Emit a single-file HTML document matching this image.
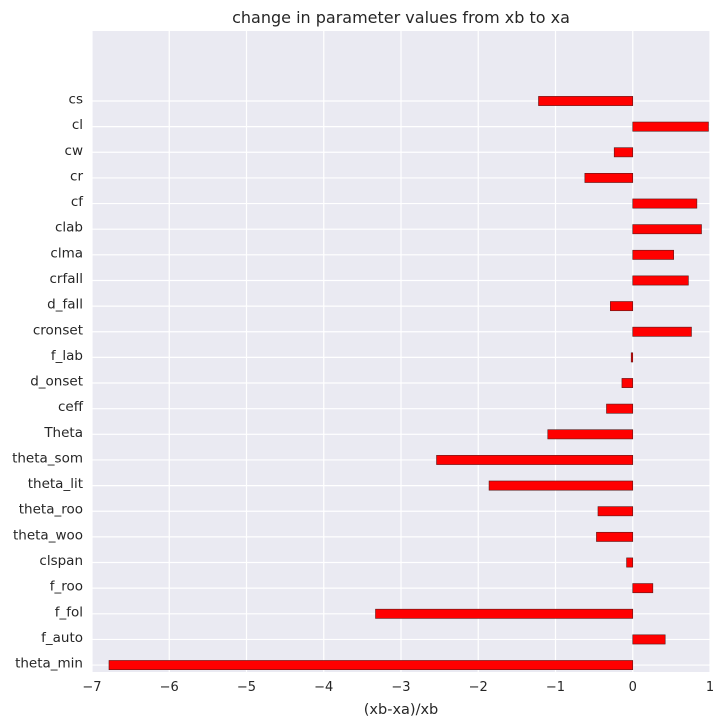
<!DOCTYPE html>
<html><head><meta charset="utf-8"><style>
body{margin:0;background:#fff;}
svg{display:block;font-family:"DejaVu Sans","Liberation Sans",sans-serif;}
</style></head><body>
<svg id="chart" width="724" height="726">
<rect x="92" y="31" width="618" height="641" fill="#EAEAF2"/>
<g id="grid"></g><g id="bars"></g><g id="labels"></g>
<text x="401" y="23" text-anchor="middle" font-size="16" fill="#262626">change in parameter values from xb to xa</text>
<text x="401" y="714" text-anchor="middle" font-size="14.5" fill="#262626">(xb-xa)/xb</text>
</svg>
<script>
const categories=["theta_min","f_auto","f_fol","f_roo","clspan","theta_woo","theta_roo","theta_lit","theta_som","Theta","ceff","d_onset","f_lab","cronset","d_fall","crfall","clma","clab","cf","cr","cw","cl","cs"];
const values=[-6.78,0.42,-3.33,0.26,-0.08,-0.47,-0.45,-1.86,-2.54,-1.10,-0.34,-0.14,-0.02,0.76,-0.29,0.72,0.53,0.89,0.83,-0.62,-0.24,0.98,-1.22];
const xTicks=[-7,-6,-5,-4,-3,-2,-1,0,1];
const NS="http://www.w3.org/2000/svg";
const L=92,R=710,T=31,B=672,xmin=-7,xmax=1,ymin=-0.27,ymax=24.73;
const sx=v=>L+(v-xmin)/(xmax-xmin)*(R-L);
const sy=i=>B-(i-ymin)/(ymax-ymin)*(B-T);
const bw=(B-T)/(ymax-ymin)*0.36;
const grid=document.getElementById('grid'),bars=document.getElementById('bars'),labels=document.getElementById('labels');
function mk(t,a){const e=document.createElementNS(NS,t);for(const k in a)e.setAttribute(k,a[k]);return e;}
xTicks.forEach(v=>{
 const l=mk('line',{x1:sx(v),x2:sx(v),y1:T,y2:B,stroke:'#fff','stroke-width':1.2});
 
 
 grid.appendChild(l);
 const t=mk('text',{x:sx(v),y:B+19,'text-anchor':'middle','font-size':13,fill:'#262626'});
 t.textContent=v<0?'\u2212'+(-v):String(v);
 
 
 labels.appendChild(t);
});
categories.forEach((c,i)=>{
 const y=sy(i);
 const l=mk('line',{x1:L,x2:R,y1:y,y2:y,stroke:'#fff','stroke-width':1.2});
 
 
 grid.appendChild(l);
 const v=values[i];
 const x0=Math.min(sx(0),sx(v)),w=Math.abs(sx(v)-sx(0));
 const r=mk('rect',{x:x0,y:y-bw/2,width:Math.max(w,1),height:bw,fill:'#ff0000',stroke:'#5a1a1a','stroke-width':0.6});
 
 
 bars.appendChild(r);
 const t=mk('text',{x:L-9,y:y+2.5,'text-anchor':'end','font-size':13.5,fill:'#262626'});
 t.textContent=c;
 
 
 labels.appendChild(t);
});
</script>
</body></html>
